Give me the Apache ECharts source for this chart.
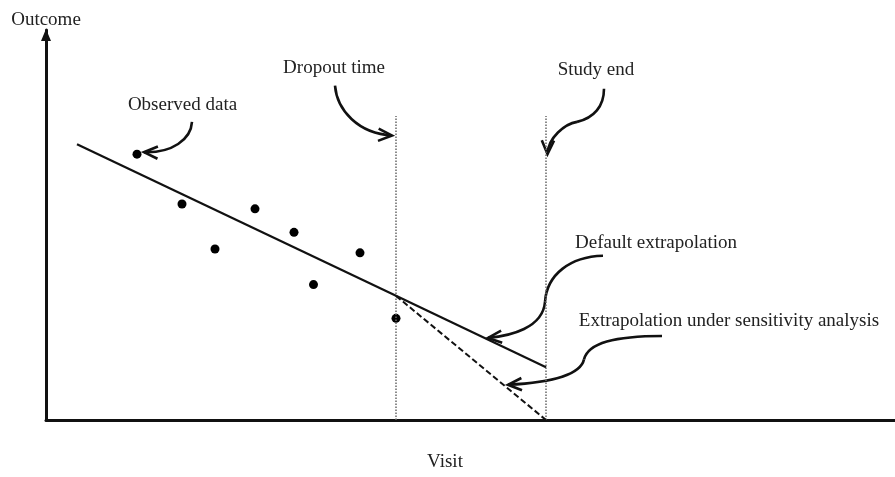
<!DOCTYPE html>
<html>
<head>
<meta charset="utf-8">
<script src="https://cdn.jsdelivr.net/npm/echarts@6/dist/echarts.min.js"></script>
<style>html,body{margin:0;padding:0;background:#fff}#c{width:895px;height:477px}</style>
</head>
<body>
<div id="c"></div>
<script>
// Observed data points (visit, outcome) in chart units
var observedPoints = [[91,272],[136,221],[169,175],[209,216],[248,192],[267.5,138.5],[314,171],[350,104]];
// Fitted trajectory up to dropout and default extrapolation to study end
var fittedLine = [[31,282],[350,127]];
var defaultExtrap = [[350,127],[500,54]];
// Extrapolation under sensitivity analysis
var sensitivityExtrap = [[350,127],[500,0]];
// Reference times
var dropoutTime = 350;
var studyEnd = 500;
var refLineTop = 311;
// Annotation labels [x, y, text]
var labels = [
  [136.5, 322, 'Observed data'],
  [288, 360.5, 'Dropout time'],
  [550, 358.5, 'Study end'],
  [610, 181.5, 'Default extrapolation'],
  [683, 101.5, 'Extrapolation under sensitivity analysis']
];
// Curved annotation arrows: list of cubic segments [start, cp1, cp2, end]
var arrows = [
  [[[146,305],[145,287],[126,273],[98,274]]],
  [[[289,342],[291,317],[312,293],[346,291]]],
  [[[558,339],[558,321],[548,309],[531,305]], [[531,305],[519,303],[502,289],[501.5,272]]],
  [[[557,168],[524,167],[501,149],[499,121]], [[499,121],[497,94],[464,86],[442,84]]],
  [[[616,86],[569,86],[542,79],[538,62]], [[538,62],[534,44],[499,38],[462,36]]]
];
var xName = 'Visit', yName = 'Outcome';

var FONT = '19px "Liberation Serif", "DejaVu Serif", serif';
var chart = echarts.init(document.getElementById('c'));

function arrowRender(params, api) {
  var segs = arrows[api.value(2)];
  var children = [];
  var last = null, prev = null;
  segs.forEach(function (s) {
    var p = s.map(function (q) { return api.coord(q); });
    children.push({
      type: 'bezierCurve',
      shape: {x1:p[0][0], y1:p[0][1], cpx1:p[1][0], cpy1:p[1][1], cpx2:p[2][0], cpy2:p[2][1], x2:p[3][0], y2:p[3][1]},
      style: {stroke:'#111', lineWidth:2.6, fill:null}
    });
    last = p[3]; prev = p[2];
  });
  var dx = last[0]-prev[0], dy = last[1]-prev[1];
  var ang = Math.atan2(dy, dx);
  var L = 15, h = 0.42;
  var a1 = [last[0]-L*Math.cos(ang-h), last[1]-L*Math.sin(ang-h)];
  var a2 = [last[0]-L*Math.cos(ang+h), last[1]-L*Math.sin(ang+h)];
  children.push({
    type: 'polyline',
    shape: {points:[a1, last, a2]},
    style: {stroke:'#111', lineWidth:2.6, fill:null, lineJoin:'miter'}
  });
  return {type:'group', children: children};
}

function labelRender(params, api) {
  var p = api.coord([api.value(0), api.value(1)]);
  return {
    type: 'text',
    x: p[0], y: p[1],
    style: {text: labels[params.dataIndex][2], fill:'#222', font: FONT,
      align:'center', verticalAlign:'middle', textAlign:'center', textVerticalAlign:'middle'}
  };
}

var option = {
  animation: false,
  grid: {left:46, right:0, top:30, bottom:48, containLabel:false},
  xAxis: {
    type:'value', min:0, max:849,
    name: xName, nameLocation:'middle', nameGap:33,
    nameTextStyle: {fontFamily:'Liberation Serif', fontSize:19, color:'#222', padding:[0,51,0,0]},
    axisLine: {show:true, lineStyle:{color:'#111', width:3}},
    axisTick:{show:false}, axisLabel:{show:false}, splitLine:{show:false}
  },
  yAxis: {
    type:'value', min:0, max:399,
    name: yName, nameLocation:'end', nameGap:0,
    nameTextStyle: {fontFamily:'Liberation Serif', fontSize:19, color:'#222', align:'center'},
    axisLine: {show:true, symbol:['none','triangle'], symbolSize:[10,12], symbolOffset:[0,-5], lineStyle:{color:'#111', width:3}},
    axisTick:{show:false}, axisLabel:{show:false}, splitLine:{show:false}
  },
  series: [
    {type:'line', data:[[dropoutTime,0],[dropoutTime,refLineTop]], symbol:'none', silent:true,
      lineStyle:{color:'#666', width:1.5, type:[1.5,1.5]}},
    {type:'line', data:[[studyEnd,0],[studyEnd,refLineTop]], symbol:'none', silent:true,
      lineStyle:{color:'#666', width:1.5, type:[1.5,1.5]}},
    {type:'line', data:fittedLine, symbol:'none', lineStyle:{color:'#111', width:2.2}},
    {type:'line', data:defaultExtrap, symbol:'none', lineStyle:{color:'#111', width:2.2}},
    {type:'line', data:sensitivityExtrap, symbol:'none', lineStyle:{color:'#111', width:2, type:[6,3]}},
    {type:'scatter', data:observedPoints, symbol:'circle', symbolSize:9, itemStyle:{color:'#000', opacity:1}},
    {type:'custom', renderItem:arrowRender, encode:{x:0,y:1}, clip:false,
      data: arrows.map(function (a, i) { return [a[0][0][0], a[0][0][1], i]; })},
    {type:'custom', renderItem:labelRender, encode:{x:0,y:1}, clip:false,
      data: labels.map(function (l) { return [l[0], l[1]]; })}
  ]
};
chart.setOption(option);
</script>
</body>
</html>
